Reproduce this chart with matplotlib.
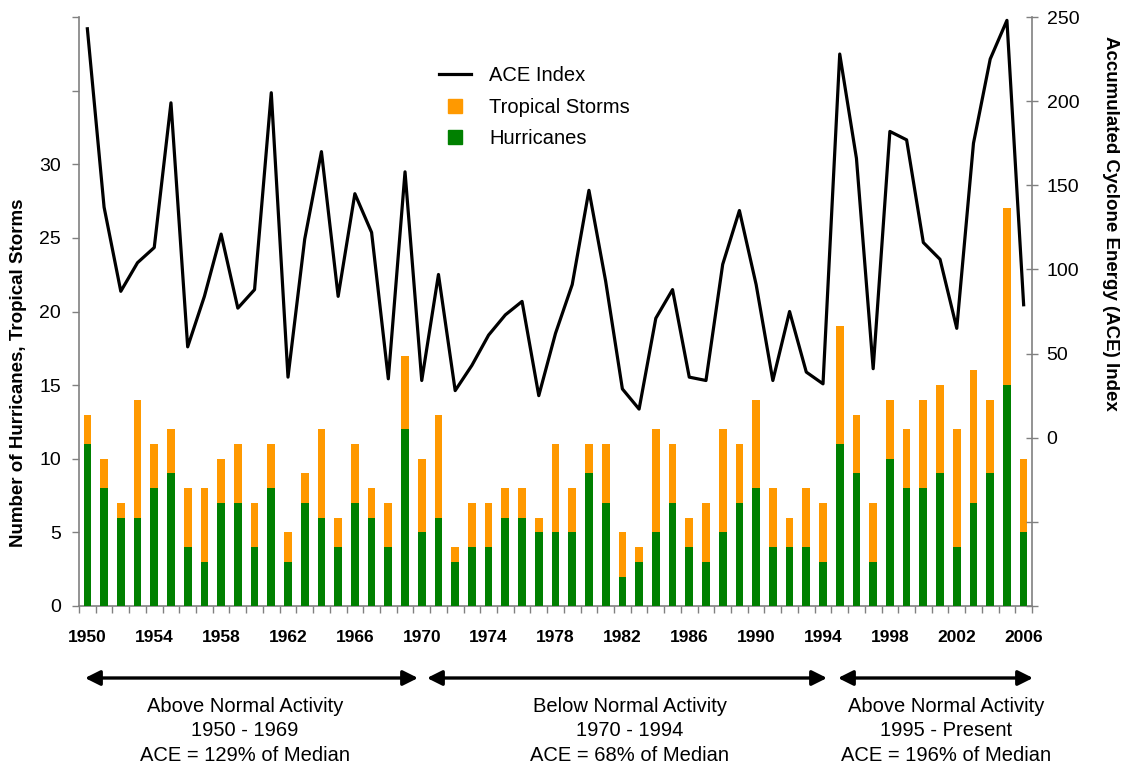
import matplotlib
matplotlib.use("Agg")
import matplotlib.pyplot as plt
from matplotlib.lines import Line2D
import numpy as np

plt.rcParams['font.family'] = ['Liberation Sans', 'DejaVu Sans']

# --- Data (Atlantic basin, 1950-2006) ---
years = list(range(1950, 2007))
named_storms = [13, 10, 7, 14, 11, 12, 8, 8, 10, 11,
                7, 11, 5, 9, 12, 6, 11, 8, 7, 17,
                10, 13, 4, 7, 7, 8, 8, 6, 11, 8,
                11, 11, 5, 4, 12, 11, 6, 7, 12, 11,
                14, 8, 6, 8, 7, 19, 13, 7, 14, 12,
                14, 15, 12, 16, 14, 27, 10]
hurricanes = [11, 8, 6, 6, 8, 9, 4, 3, 7, 7,
              4, 8, 3, 7, 6, 4, 7, 6, 4, 12,
              5, 6, 3, 4, 4, 6, 6, 5, 5, 5,
              9, 7, 2, 3, 5, 7, 4, 3, 5, 7,
              8, 4, 4, 4, 3, 11, 9, 3, 10, 8,
              8, 9, 4, 7, 9, 15, 5]
ace_index = [243, 137, 87, 104, 113, 199, 54, 84, 121, 77,
             88, 205, 36, 118, 170, 84, 145, 122, 35, 158,
             34, 97, 28, 43, 61, 73, 81, 25, 62, 91,
             147, 93, 29, 17, 71, 88, 36, 34, 103, 135,
             91, 34, 75, 39, 32, 228, 166, 41, 182, 177,
             116, 106, 65, 175, 225, 248, 79]

eras = [
    "Above Normal Activity\n1950 - 1969\nACE = 129% of Median",
    "Below Normal Activity\n1970 - 1994\nACE = 68% of Median",
    "Above Normal Activity\n1995 - Present\nACE = 196% of Median",
]

orange = '#FF9900'
green = '#008000'
spine_grey = '#808080'

W, H = 1122, 767
fig = plt.figure(figsize=(W / 100, H / 100), dpi=100)
ax = fig.add_axes([79 / W, 1 - 606 / H, (1032 - 79) / W, (606 - 17) / H])
ax2 = ax.twinx()

x = np.arange(len(years))

# --- Bars: total named storms (orange) with hurricanes (green) in front ---
ax.bar(x, named_storms, width=0.46, color=orange, zorder=2)
ax.bar(x, hurricanes, width=0.46, color=green, zorder=3)

ax.set_xlim(-0.5, len(years) - 0.5)
ax.set_ylim(0, 40)
ax.set_yticks(np.arange(0, 41, 5))
ax.set_yticklabels([str(v) if v <= 30 else '' for v in range(0, 41, 5)])
ax.tick_params(axis='y', direction='out', length=5, width=1, color=spine_grey,
               labelsize=14, pad=8)

# year labels every 4 years, boundary ticks between every year
ax.set_xticks(x[::4])
ax.set_xticklabels([str(y) for y in years[::4]], fontweight='bold', fontsize=12.5)
ax.set_xticks(np.arange(-0.5, len(years), 1), minor=True)
ax.tick_params(axis='x', which='major', length=0, pad=17)
ax.tick_params(axis='x', which='minor', direction='out', length=5, width=1,
               color=spine_grey)

for s in ['top', 'right']:
    ax.spines[s].set_visible(False)
for s in ['left', 'bottom']:
    ax.spines[s].set_color(spine_grey)
    ax.spines[s].set_linewidth(1.2)

ax.set_ylabel("Number of Hurricanes, Tropical Storms", fontsize=13.5,
              fontweight='bold')
ax.yaxis.set_label_coords(-0.055, 0.396)

# --- ACE line on right axis ---
ax2.plot(x, ace_index, color='black', linewidth=2.3, zorder=4)
ax2.set_ylim(-100, 250)
ax2.set_yticks(np.arange(-100, 251, 50))
ax2.set_yticklabels([str(v) if v >= 0 else '' for v in range(-100, 251, 50)])
ax2.tick_params(axis='y', direction='inout', length=9, width=1, color=spine_grey,
                labelsize=14, pad=6)
for s in ['top', 'left', 'bottom']:
    ax2.spines[s].set_visible(False)
ax2.spines['right'].set_color(spine_grey)
ax2.spines['right'].set_linewidth(1.2)
ax2.set_ylabel("Accumulated Cyclone Energy (ACE) Index", fontsize=13.5,
               fontweight='bold', rotation=270)
ax2.yaxis.set_label_coords(1.091, 0.65)

# --- Legend ---
handles = [
    Line2D([0], [0], color='black', linewidth=2.3, label='ACE Index'),
    Line2D([0], [0], marker='s', linestyle='None', color=orange,
           markersize=9.5, label='Tropical Storms'),
    Line2D([0], [0], marker='s', linestyle='None', color=green,
           markersize=9.5, label='Hurricanes'),
]
ax2.legend(handles=handles, loc='upper left', bbox_to_anchor=(0.3585, 0.947),
           frameon=False, fontsize=14.5, handlelength=1.6, handletextpad=0.9,
           labelspacing=0.62)

# --- Era arrows and annotations below the axis ---
arrows = [(85, 418), (427, 827), (838, 1033)]
text_x = [245, 630, 946]
for (x0, x1), tx, label in zip(arrows, text_x, eras):
    ax.annotate('', xy=(x1 / W, 1 - 678 / H), xytext=(x0 / W, 1 - 678 / H),
                xycoords='figure fraction', textcoords='figure fraction',
                arrowprops=dict(arrowstyle='<|-|>,head_length=0.9,head_width=0.45',
                                color='black', lw=2.4, shrinkA=0, shrinkB=0))
    fig.text(tx / W, 1 - 697 / H, label, ha='center', va='top', fontsize=14.5,
             linespacing=1.36)

fig.savefig('out.png', dpi=100)
